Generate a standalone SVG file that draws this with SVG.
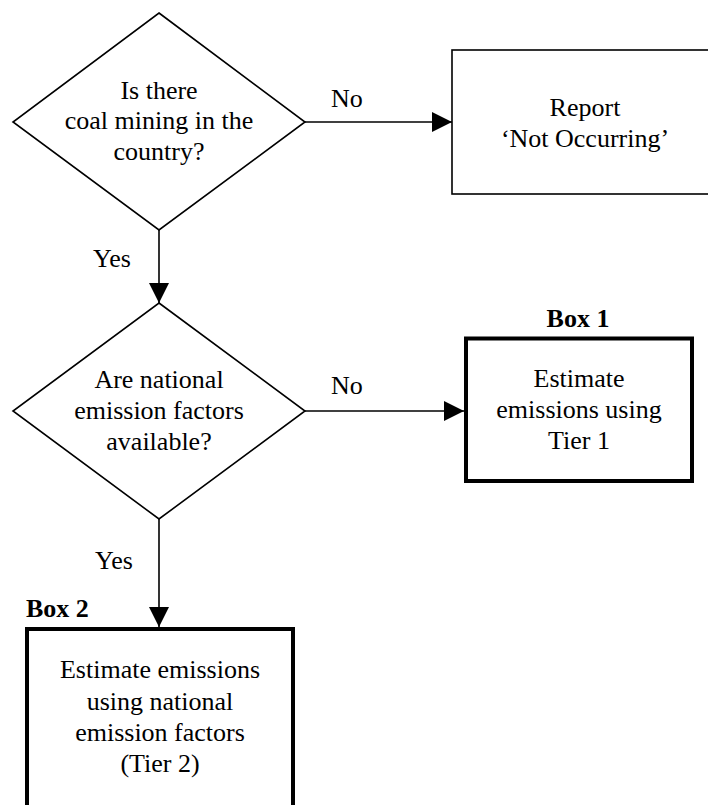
<svg xmlns="http://www.w3.org/2000/svg" width="708" height="805" viewBox="0 0 708 805">
  <style>
    text { font-family: "Liberation Serif", "Times New Roman", serif; font-size: 26px; fill: #000; }
    .c { text-anchor: middle; }
    .b { font-weight: bold; }
    .shape { fill: #fff; stroke: #000; stroke-width: 1.6; }
    .thick { fill: #fff; stroke: #000; stroke-width: 4; }
    .edge { fill: none; stroke: #000; stroke-width: 1.6; }
  </style>
  <defs>
    <marker id="arrow" markerUnits="userSpaceOnUse" markerWidth="20" markerHeight="20" refX="20" refY="10" orient="auto">
      <path d="M0,0 L20,10 L0,20 Z" fill="#000"/>
    </marker>
  </defs>
  <rect width="708" height="805" fill="#fff"/>

  <!-- connectors -->
  <g id="connectors">
    <line class="edge" x1="305" y1="122" x2="452" y2="122" marker-end="url(#arrow)"/>
    <text x="331" y="107">No</text>
    <line class="edge" x1="159" y1="230" x2="159" y2="303" marker-end="url(#arrow)"/>
    <text x="93" y="267">Yes</text>
    <line class="edge" x1="305" y1="411" x2="464" y2="411" marker-end="url(#arrow)"/>
    <text x="331" y="394">No</text>
    <line class="edge" x1="159" y1="519" x2="159" y2="627" marker-end="url(#arrow)"/>
    <text x="95" y="569">Yes</text>
  </g>

  <!-- decision: coal mining -->
  <g id="q-coal-mining">
    <polygon class="shape" points="159,13 305,122 159,230 13,122"/>
    <text class="c" x="159" y="99">Is there</text>
    <text class="c" x="159" y="129">coal mining in the</text>
    <text class="c" x="159" y="160">country?</text>
  </g>

  <!-- outcome: not occurring -->
  <g id="report-not-occurring">
    <rect class="shape" x="452" y="50" width="270" height="144"/>
    <text class="c" x="585" y="116">Report</text>
    <text class="c" x="585" y="147">‘Not Occurring’</text>
  </g>

  <!-- decision: national emission factors -->
  <g id="q-national-factors">
    <polygon class="shape" points="159,303 305,411 159,519 13,411"/>
    <text class="c" x="159" y="388">Are national</text>
    <text class="c" x="159" y="419">emission factors</text>
    <text class="c" x="159" y="450">available?</text>
  </g>

  <!-- Box 1: Tier 1 -->
  <g id="box-1">
    <text class="c b" x="578" y="327">Box 1</text>
    <rect class="thick" x="466" y="338.5" width="226" height="142.5"/>
    <text class="c" x="579" y="387">Estimate</text>
    <text class="c" x="579" y="418">emissions using</text>
    <text class="c" x="579" y="449">Tier 1</text>
  </g>

  <!-- Box 2: Tier 2 -->
  <g id="box-2">
    <text class="b" x="26" y="617">Box 2</text>
    <rect class="thick" x="27" y="629" width="266" height="200"/>
    <text class="c" x="160" y="678">Estimate emissions</text>
    <text class="c" x="160" y="710">using national</text>
    <text class="c" x="160" y="741">emission factors</text>
    <text class="c" x="160" y="772">(Tier 2)</text>
  </g>
</svg>
